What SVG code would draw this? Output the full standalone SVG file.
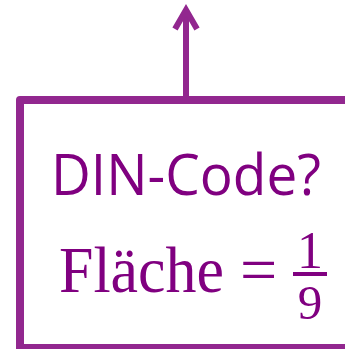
<svg xmlns="http://www.w3.org/2000/svg" width="345" height="349" viewBox="0 0 345 349">
  <style>
    .edge { fill: none; stroke: #92278f; stroke-width: 8; stroke-linejoin: round; }
    .conn { fill: none; stroke: #92278f; stroke-width: 6; }
    .head { fill: none; stroke: #92278f; stroke-width: 6; stroke-linecap: butt; stroke-linejoin: miter; }
    .label { fill: #800080; font-family: "Open Sans", "Liberation Sans", sans-serif; }
    .math { fill: #800080; font-family: "Liberation Serif", "Times New Roman", serif; }
  </style>
  <rect width="345" height="349" fill="#ffffff"/>
  <g id="connectors">
    <line class="conn" x1="186" y1="100" x2="186" y2="10"/>
    <polyline class="head" points="175,29 186,10 197,29"/>
  </g>
  <g id="node-din">
    <path class="edge" d="M360,100 H20 V348 H360"/>
    <text class="label" x="51" y="195" font-size="56" textLength="270" lengthAdjust="spacingAndGlyphs">DIN-Code?</text>
    <text class="math" x="59" y="292" font-size="66" textLength="165" lengthAdjust="spacingAndGlyphs">Fläche</text>
    <text class="math" x="240" y="292" font-size="66">=</text>
    <text class="math" x="310" y="268" font-size="52" text-anchor="middle">1</text>
    <rect x="293" y="272" width="34" height="4" fill="#800080"/>
    <text class="math" x="310" y="319" font-size="49" text-anchor="middle">9</text>
  </g>
</svg>
